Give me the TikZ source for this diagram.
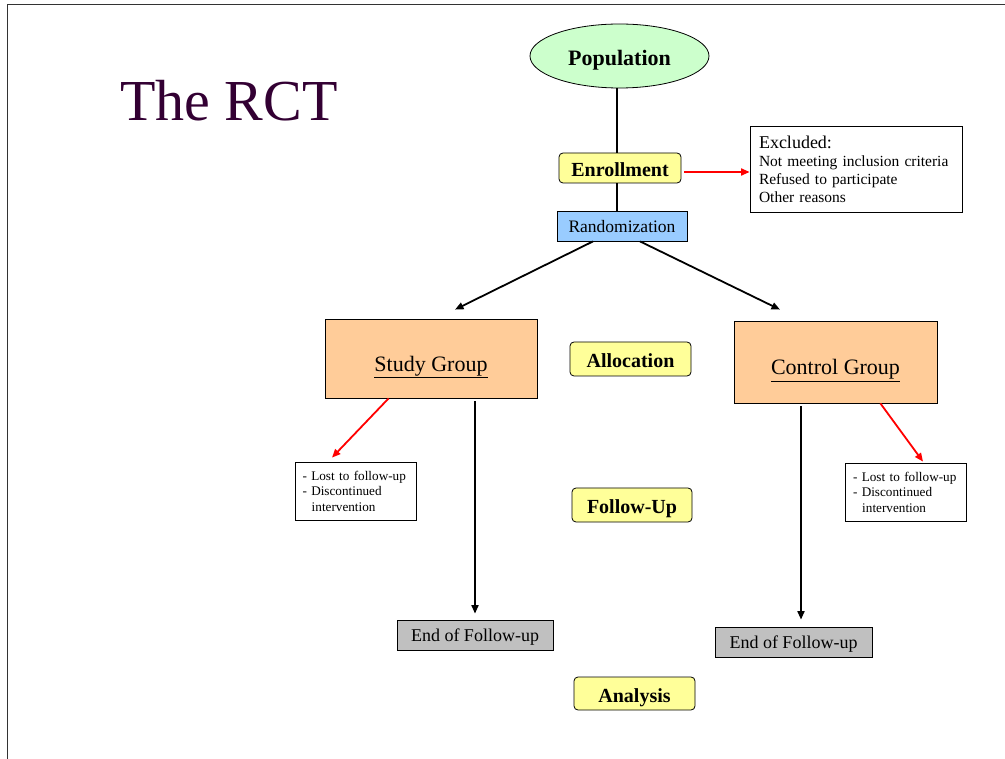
\documentclass[tikz,border=0pt]{standalone}
\usepackage{fontspec}
\setmainfont{Liberation Serif}
\usetikzlibrary{arrows.meta,shapes.geometric}
\definecolor{popgreen}{HTML}{CCFFCC}
\definecolor{stageyellow}{HTML}{FFFF99}
\definecolor{randblue}{HTML}{99CCFF}
\definecolor{grouporange}{HTML}{FFCC99}
\definecolor{endgray}{HTML}{C0C0C0}
\definecolor{titlepurple}{HTML}{330033}
\tikzset{
  oneline/.style={text height=#1, text depth=0pt},
  stagebox/.style={draw=black, line width=0.8pt, rounded corners=4pt, fill=stageyellow, inner sep=0pt,
    font=\fontsize{20}{22}\selectfont\bfseries, oneline=17.5pt},
  groupbox/.style={draw=black, line width=0.8pt, fill=grouporange, inner sep=0pt,
    font=\fontsize{22}{24}\selectfont, oneline=25.5pt},
  endbox/.style={draw=black, line width=0.8pt, fill=endgray, inner sep=0pt, minimum width=156pt, minimum height=30pt,
    font=\fontsize{18}{20}\selectfont, oneline=12pt},
  lostbox/.style={draw=black, line width=0.8pt, fill=white, align=left, inner xsep=7.5pt, inner ysep=0pt,
    minimum height=58pt, text width=106pt, font=\fontsize{13.2}{15.5}\selectfont},
  conn/.style={line width=1.8pt, black},
  blackarrow/.style={conn, -{Triangle[length=8.5pt,width=7pt]}},
  redarrow/.style={line width=1.8pt, red, -{Triangle[length=8.5pt,width=7pt]}},
}
\begin{document}
\begin{tikzpicture}[x=1pt,y=-1pt]
\useasboundingbox (0,0) rectangle (1005,759);
% frame
\coordinate (frameTL) at (7,5);
\coordinate (frameTR) at (1005,5);
\coordinate (frameBL) at (7,759);
\draw[line width=1pt, black!80] (frameTR) -- (frameTL) -- (frameBL);

% title
\node[anchor=west, text=titlepurple, font=\fontsize{58}{60}\selectfont, inner sep=0pt] (title) at (120,101) {The RCT};

% nodes
\node[ellipse, draw=black, line width=0.8pt, fill=popgreen, minimum width=179pt, minimum height=64pt, inner sep=0pt,
  font=\fontsize{22}{24}\selectfont\bfseries, oneline=19.5pt] (pop) at (619.5,56) {Population};
\node[stagebox, minimum width=122pt, minimum height=30pt] (enroll) at (620,168) {Enrollment};
\node[draw=black, line width=0.8pt, fill=randblue, minimum width=130pt, minimum height=30pt, inner sep=0pt,
  font=\fontsize{17.5}{20}\selectfont, oneline=13.5pt] (rand) at (622,226) {Randomization};
\node[draw=black, line width=0.8pt, fill=white, align=left, text width=194pt, inner xsep=9pt, inner ysep=0pt,
  minimum height=86pt, font=\fontsize{15.5}{18}\selectfont] (excl) at (856,169)
  {{\fontsize{18}{18}\selectfont Excluded:}\\Not meeting inclusion criteria\\Refused to participate\\Other reasons};

\node[groupbox, minimum width=212pt, minimum height=79pt] (study) at (431,358.5) {\underline{Study Group}};
\node[stagebox, minimum width=121pt, minimum height=34pt] (alloc) at (630.5,359) {Allocation};
\node[groupbox, minimum width=203pt, minimum height=82pt] (control) at (835.5,362) {\underline{Control Group}};

\node[lostbox, minimum width=121pt] (lostL) at (355.5,491) {- Lost to follow-up\\- Discontinued\\\hspace*{0.7em}intervention};
\node[stagebox, minimum width=120pt, minimum height=34pt] (follow) at (632,505) {Follow-Up};
\node[lostbox, minimum width=120pt] (lostR) at (906,492) {- Lost to follow-up\\- Discontinued\\\hspace*{0.7em}intervention};

\node[endbox] (endL) at (475,635) {End of Follow-up};
\node[endbox, minimum width=157pt] (endR) at (793.5,642) {End of Follow-up};
\node[stagebox, minimum width=121pt, minimum height=33pt] (analysis) at (634.5,693.5) {Analysis};

% connectors
\draw[conn] ([xshift=-2.5pt]pop.south) -- ([xshift=-2.5pt]pop.south |- enroll.north);
\draw[conn] ([xshift=-2.5pt]pop.south |- enroll.south) -- ([xshift=-2.5pt]pop.south |- rand.north);
\draw[redarrow] ([xshift=3pt,yshift=-4pt]enroll.east) -- ([yshift=-4pt]enroll.east -| excl.west);

\draw[blackarrow] ([xshift=-29pt]rand.south) -- ([xshift=24pt,yshift=9pt]study.north);
\draw[blackarrow] ([xshift=18pt]rand.south) -- ([xshift=-55.5pt,yshift=11pt]control.north);

\draw[redarrow] ([xshift=64pt]study.south west) -- ([xshift=-23.5pt,yshift=4pt]lostL.north);
\draw[redarrow] ([xshift=-57pt]control.south east) -- ([xshift=17pt,yshift=1pt]lostR.north);

\draw[blackarrow] ([yshift=-3pt]study.south -| endL.north) -- ([yshift=6pt]endL.north);
\coordinate (endRtop) at ([xshift=7.5pt,yshift=7pt]endR.north);
\draw[blackarrow] ([yshift=-3pt]control.south -| endRtop) -- (endRtop);
\end{tikzpicture}
\end{document}
